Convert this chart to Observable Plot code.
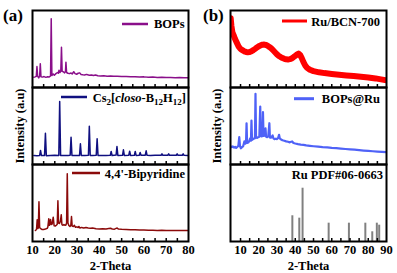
<!DOCTYPE html>
<html><head><meta charset="utf-8">
<script src="https://cdn.jsdelivr.net/npm/d3@7"></script>
<script src="https://cdn.jsdelivr.net/npm/@observablehq/plot@0.6"></script>
<style>
body{margin:0;background:#fff;}
#chart{position:relative;width:397px;height:273px;overflow:hidden;background:#fff;font-family:"Liberation Serif","Times New Roman",serif;font-weight:bold;color:#000;}
#chart .sub{position:absolute;}
#chart svg{background:transparent;overflow:visible;max-width:none;}
.lbl{position:absolute;white-space:nowrap;line-height:1;}
.ylab{position:absolute;font-size:12.5px;white-space:nowrap;line-height:1;transform:translate(-50%,-50%) rotate(-90deg);}
</style>
</head><body><div id="chart"></div>
<script>
// ---------- data (2-Theta, relative intensity) ----------
const bops = [[10.6,13.4],[11.2,13.8],[11.7,14.5],[12.0,27.3],[12.3,14.8],[12.8,12.5],[13.2,15],[13.5,30.8],[13.8,14],[14.5,13.5],[15.2,14.2],[16.0,13.2],[16.8,14],[17.5,13.6],[18.1,15],[18.4,89.2],[18.7,15.5],[19.3,17.5],[19.8,16],[20.5,18],[21.2,19.5],[21.6,18.5],[21.9,22.5],[22.3,19.5],[22.7,21],[23.0,52.3],[23.3,21],[23.8,20.5],[24.4,19],[24.8,21],[25.0,32.9],[25.3,19.5],[25.9,18.5],[26.6,18],[27.3,18.8],[27.8,17.5],[28.5,20.5],[29.1,18],[29.8,17.2],[30.5,18.5],[31.2,19],[31.8,17],[32.6,16.5],[33.4,16.2],[34.2,17],[34.8,16.5],[35.5,15.8],[36.5,16.3],[37.3,15.5],[38.3,16.3],[39.3,15.3],[40.5,14.8],[42,15.2],[43.5,14.6],[45,14.9],[46.5,14.5],[48,14.7],[50,14.2],[52,14.4],[54,13.9],[56,14.1],[58,13.7],[60,13.8],[62,13.4],[64,13.5],[66,13.1],[68,13.3],[70,12.9],[72,13.1],[74,12.8],[76,13],[78,12.7],[80,12.6]];
const csB12 = [[10.6,11.7],[12,11.5],[13.2,11.8],[13.6,18.2],[14.0,11.6],[15.4,11.8],[15.8,40.6],[16.2,11.5],[18,11.7],[20,11.9],[21.8,11.8],[22.2,81.8],[22.6,11.6],[24,11.7],[26,11.8],[26.9,11.9],[27.3,35.5],[27.7,11.6],[29.5,11.7],[31.1,11.8],[31.5,26.9],[31.9,11.6],[33.5,11.7],[35.1,11.9],[35.5,49.7],[35.9,11.6],[37,11.8],[38.6,12],[39.0,33.4],[39.4,11.7],[41,11.6],[43,11.8],[44.9,11.9],[45.3,16.9],[45.7,11.7],[47.5,12.2],[47.9,23.4],[48.3,11.8],[50.4,12],[50.8,19.1],[51.2,11.8],[53.2,12],[53.6,17.3],[54,11.8],[55.7,11.9],[56.1,16.9],[56.5,11.8],[57.9,12],[58.3,15.6],[58.7,11.9],[60.6,12.1],[61.0,17.8],[61.4,11.9],[63,11.8],[65,11.9],[67.7,12],[68.1,13.9],[68.5,11.9],[70.7,12],[71.1,13.9],[71.5,11.9],[74.5,12],[74.9,13.9],[75.3,11.9],[77.2,12],[77.6,13.9],[78,11.9],[80,11.8]];
const bipy = [[11.3,14.3],[11.8,15.6],[12.1,28.2],[12.4,16.9],[12.6,17.5],[12.9,51.7],[13.2,18.5],[13.5,16.9],[14.2,15.6],[15,15.6],[15.8,16.2],[16.6,17],[16.9,19],[17.3,29.5],[17.6,21],[17.8,23],[18.1,28.6],[18.4,22],[18.8,22.5],[19.3,31.6],[19.7,20.5],[20.3,20],[20.8,21.5],[21.1,22.5],[21.4,52.9],[21.7,24],[22.1,23.4],[22.5,26],[22.9,34.7],[23.2,22],[23.7,21],[24.1,22.1],[24.6,21],[25.0,21.5],[25.3,24],[25.6,87.9],[25.9,24],[26.3,20.8],[26.8,19.5],[27.2,21],[27.5,32.5],[27.8,20],[28.3,19.5],[28.8,21],[29.3,18.5],[29.9,19],[30.5,18.2],[30.8,19.5],[31.3,17.6],[32,18.3],[33,17.5],[34,18.2],[35,17.6],[36,17.1],[37,17.4],[38.5,16.6],[40,16.3],[41.5,16.6],[43,16.1],[44.2,16.8],[45,17.2],[45.8,16.2],[46.8,16],[47.5,17],[48,17.5],[48.6,16.2],[50,15.8],[52,15.6],[54,15.2],[56,15.3],[58,14.9],[60,15],[62,14.7],[64,14.7],[66,14.4],[68,14.5],[70,14.3],[72,14.4],[74,14.2],[76,14.3],[78,14.2],[80,14.2]];
const ruBcn = [[4.6,90],[5.0,80],[5.5,72],[6.2,68],[7,63],[8,58],[9,53],[10,50],[11,48.5],[12,47],[13,46.2],[14,45.8],[15,46],[16,47],[17,48.5],[18,50.2],[19,52],[20,53.6],[21,54.8],[22,55.6],[23,55.8],[24,55.2],[25,54],[26,52.4],[27,50.5],[28,48],[29,45.5],[30,43],[31,41],[32,39.5],[33,38.2],[34,37.2],[35,36.6],[36,36.4],[37,36.8],[38,37.8],[39,39.4],[40,41.2],[41,43],[41.8,44],[42.6,42.5],[43.5,38.5],[44.5,33],[45.5,28.5],[46.5,25.5],[48,23],[50,21.2],[53,19.7],[56,18.7],[60,17.6],[64,16.6],[68,15.7],[72,15],[76,14],[80,13.1],[84,11.8],[87,10.5],[90,9.2]];
const bopsRu = [[4.6,23.4],[5.2,22.5],[5.8,23.5],[6.4,22],[7,23],[7.6,21.5],[8.2,22.8],[8.8,24],[9.3,35.5],[9.7,24],[10.2,21],[10.8,22.5],[11.4,23.5],[12.1,30],[12.6,27],[13.0,28],[13.3,53.6],[13.6,28],[14.2,28.5],[14.8,30.5],[15.3,34],[15.7,31],[16.0,57.1],[16.3,32],[16.9,33],[17.5,34],[17.9,34],[18.2,91.8],[18.5,35],[19.1,34.5],[19.7,35.5],[20.3,36],[20.8,75.3],[21.1,37],[21.6,36.5],[22.0,37.5],[22.3,67.9],[22.6,37],[23.2,37.5],[23.7,46.8],[24.0,36],[24.6,35.5],[25.2,36.5],[25.8,53.6],[26.1,35],[26.8,35],[27.6,37.7],[28,34],[28.6,33],[29.3,33.5],[30,33],[30.6,34.5],[31.1,38.6],[31.5,34],[32.2,32.5],[33,31.5],[34,30.8],[35,30],[36,29.5],[37,28.8],[38.3,30],[39,28],[40,27.3],[41.5,26.5],[43,25.8],[44.5,25.5],[46,24.8],[48,24.2],[50,23.7],[52.5,23.2],[55,22.6],[57.5,22.2],[60,21.6],[62.5,21.2],[65,20.6],[67.5,20.1],[70,19.6],[72.5,19.2],[75,18.6],[77.5,18.1],[80,17.7],[82.5,17.2],[85,16.8],[87.5,16.4],[90,16]];
const ruPdf = [[38.4,33.4],[42.2,30.3],[44.0,69.2],[58.3,23.8],[69.4,23.8],[78.4,23.8],[82.2,12.6],[84.7,23.8],[86.0,21.2]];

const domainA = [10, 80];
const domainB = [4.5, 90];
const minorTicksA = [15,20,25,30,35,40,45,50,55,60,65,70,75];
const minorTicksB = [10,15,20,25,30,35,40,45,50,55,60,65,70,75,80,85];
const tickLabelsA = [10,20,30,40,50,60,70,80];
const tickLabelsB = [10,20,30,40,50,60,70,80,90];

// ---------- layout ----------
const M = 4, FW = 156, FH = 77;
const leftA = 32, leftB = 230;
const tops = [10, 87, 164];
const FONT = "'Liberation Serif','Times New Roman',serif";

function legendMark(spec) {
  return () => {
    const g = d3.create("svg:g").attr("font-family", FONT).attr("font-weight", "bold").attr("font-size", 12.5);
    if (spec.line) {
      g.append("line")
        .attr("x1", M + spec.line[0]).attr("x2", M + spec.line[1])
        .attr("y1", M + spec.lineY).attr("y2", M + spec.lineY)
        .attr("stroke", spec.color).attr("stroke-width", spec.lw || 2.5);
    }
    const t = g.append("text").attr("x", M + spec.end).attr("y", M + spec.base).attr("text-anchor", "end").attr("fill", "#000");
    for (const p of spec.parts) {
      const ts = t.append("tspan").text(p.t);
      if (p.sub) ts.attr("font-size", 9).attr("dy", 3);
      if (p.up) ts.attr("dy", -3);
      if (p.it) ts.attr("font-style", "italic");
    }
    return g.node();
  };
}

function subPlot({data, color, sw, rules, domain, minor, labels, bottom, legend}) {
  const marks = [];
  if (rules) marks.push(Plot.ruleX(data, {x: d => d[0], y1: 0, y2: d => d[1], stroke: color, strokeWidth: sw}));
  else marks.push(Plot.line(data, {x: d => d[0], y: d => d[1], stroke: color, strokeWidth: sw, strokeLinejoin: "round", clip: true}));
  marks.push(Plot.frame({stroke: "#000", strokeWidth: 2}));
  marks.push(Plot.axisX({anchor: "bottom", ticks: minor, tickSize: -3, strokeWidth: 1.5, tickFormat: () => "", label: null}));
  if (bottom) marks.push(Plot.axisX({anchor: "bottom", ticks: labels, tickSize: 0, tickPadding: 3.5, tickFormat: d => String(d),
    label: "2-Theta", labelAnchor: "center", labelOffset: 28, labelArrow: "none"}));
  marks.push(legendMark(legend));
  return Plot.plot({
    width: FW + 2 * M,
    height: FH + 2 * M + (bottom ? 32 : 0),
    marginTop: M, marginLeft: M, marginRight: M, marginBottom: M + (bottom ? 32 : 0),
    x: {domain},
    y: {domain: [0, 100], axis: null},
    style: {fontFamily: FONT, fontWeight: "bold", fontSize: "12.5px", background: "transparent", overflow: "visible"},
    marks
  });
}

const chart = document.getElementById("chart");
function place(node, left, top) {
  const wrap = document.createElement("div");
  wrap.className = "sub";
  wrap.style.left = (left - M) + "px";
  wrap.style.top = (top - M) + "px";
  wrap.appendChild(node);
  chart.appendChild(wrap);
}

const panels = [
  {left: leftA, row: 0, data: bops, color: "#8a0f8a", sw: 1.5, domain: domainA, minor: minorTicksA, labels: tickLabelsA,
   legend: {line: [90, 116], lineY: 14, base: 18, end: 152.5, color: "#8a0f8a", parts: [{t: "BOPs"}]}},
  {left: leftA, row: 1, data: csB12, color: "#101080", sw: 1.5, domain: domainA, minor: minorTicksA, labels: tickLabelsA,
   legend: {line: [29, 55], lineY: 10, base: 14.5, end: 154, color: "#101080",
     parts: [{t: "Cs"}, {t: "2", sub: true}, {t: "[", up: true}, {t: "closo", it: true}, {t: "-B"}, {t: "12", sub: true}, {t: "H", up: true}, {t: "12", sub: true}, {t: "]", up: true}]}},
  {left: leftA, row: 2, data: bipy, color: "#8b0a0a", sw: 1.5, domain: domainA, minor: minorTicksA, labels: tickLabelsA, bottom: true,
   legend: {line: [40, 68], lineY: 9, base: 14, end: 153, color: "#8b0a0a", parts: [{t: "4,4'-Bipyridine"}]}},
  {left: leftB, row: 0, data: ruBcn, color: "#ff0000", sw: 6, domain: domainB, minor: minorTicksB, labels: tickLabelsB,
   legend: {line: [52, 77], lineY: 11, base: 16, end: 150, color: "#ff0000", lw: 3, parts: [{t: "Ru/BCN-700"}]}},
  {left: leftB, row: 1, data: bopsRu, color: "#4f62f7", sw: 2.2, domain: domainB, minor: minorTicksB, labels: tickLabelsB,
   legend: {line: [64, 84], lineY: 11.7, base: 15.5, end: 150, color: "#4f62f7", lw: 3, parts: [{t: "BOPs@Ru"}]}},
  {left: leftB, row: 2, data: ruPdf, rules: true, color: "#808080", sw: 2, domain: domainB, minor: minorTicksB, labels: tickLabelsB, bottom: true,
   legend: {base: 15, end: 153, parts: [{t: "Ru PDF#06-0663"}]}}
];
for (const p of panels) place(subPlot(p), p.left, tops[p.row]);

function addLabel(text, left, top, size, cls) {
  const d = document.createElement("div");
  d.className = cls || "lbl";
  d.textContent = text;
  d.style.left = left + "px";
  d.style.top = top + "px";
  if (size) d.style.fontSize = size + "px";
  chart.appendChild(d);
}
addLabel("(a)", 3, 7, 17);
addLabel("(b)", 203, 7, 17);
addLabel("Intensity (a.u)", 20, 126, null, "ylab");
addLabel("Intensity (a.u)", 217, 126, null, "ylab");
</script></body></html>
